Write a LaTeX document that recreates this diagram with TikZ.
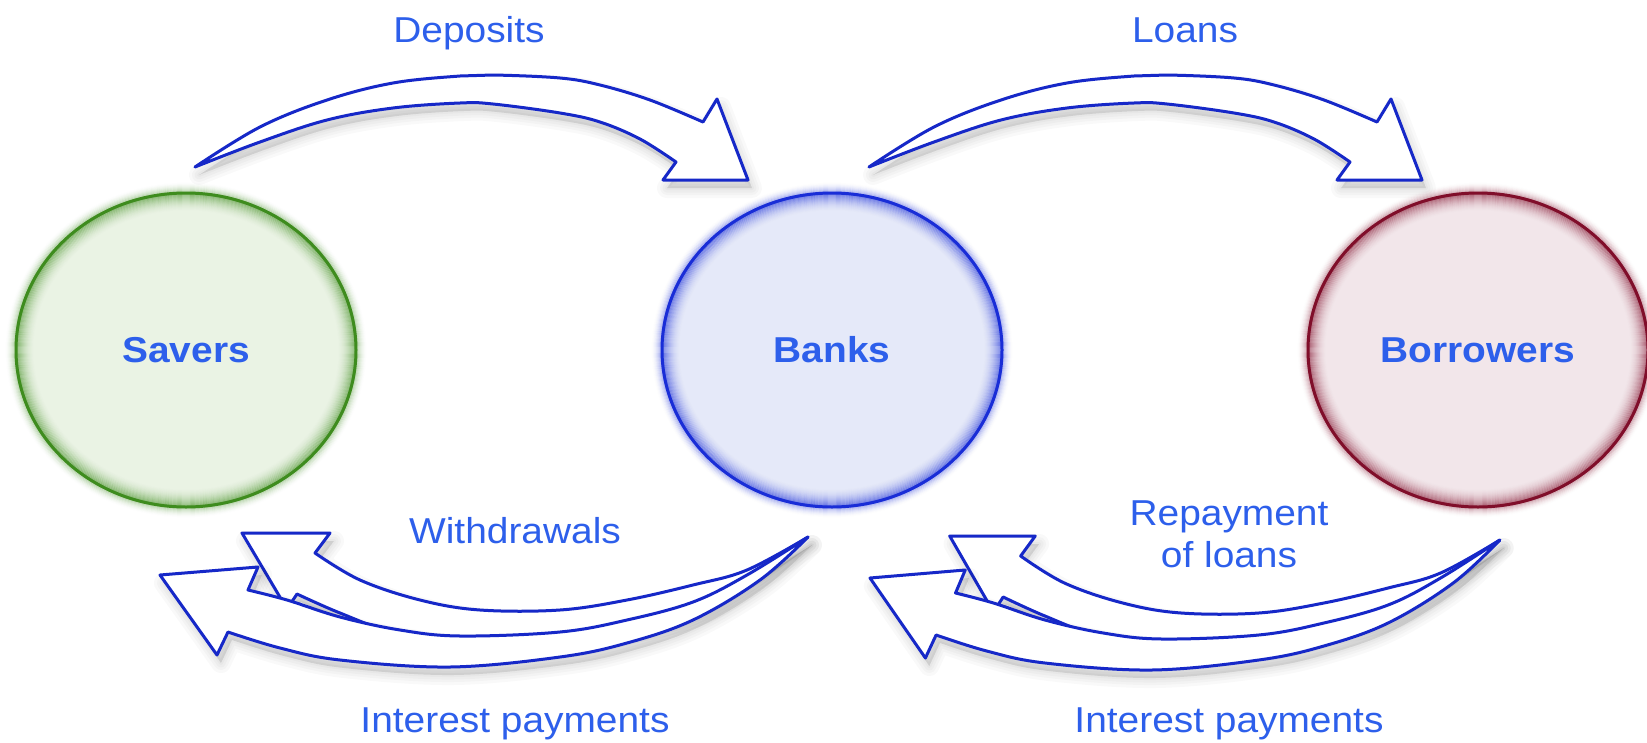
\documentclass[tikz,border=0pt]{standalone}
\usepackage{fontspec}
\setmainfont{Liberation Sans}
\usetikzlibrary{shapes.geometric}

\definecolor{txtblue}{RGB}{45,95,235}
\definecolor{arrowblue}{RGB}{22,40,200}
\definecolor{saverline}{RGB}{62,140,30}
\definecolor{saverfill}{RGB}{234,243,228}
\definecolor{bankline}{RGB}{25,45,215}
\definecolor{bankfill}{RGB}{229,233,249}
\definecolor{borrline}{RGB}{128,14,42}
\definecolor{borrfill}{RGB}{242,230,234}

\tikzset{
  lbl/.style={text=txtblue, font=\fontsize{36}{42}\selectfont, inner sep=0pt},
  agent/.style={ellipse, minimum width=340pt, minimum height=314pt, inner sep=0pt,
    line width=3pt, text=txtblue, font=\fontsize{36}{42}\selectfont\bfseries},
  blockarrow/.style={draw=arrowblue, fill=white, line width=3pt, line join=round},
}

% curved block arrow pointing right (top row)
\def\toparrow{plot[smooth,tension=0.6] coordinates {(195,167) (260,127) (327,100) (393,83) (460,76) (493,75) (560,78) (600,85) (650,100) (703,122)}
  -- (717,99) -- (748,180) -- (663,180) -- (676,162)
  -- plot[smooth,tension=0.6] coordinates {(676,162) (640,139) (600,122) (560,113) (493,104) (460,103) (393,108) (327,120) (260,142) (195,167)} -- cycle}

% rear returning arrow (bottom row)
\def\backarrow{(242,533) -- (330,533) -- (315,553)
  -- plot[smooth,tension=0.6] coordinates {(315,553) (360,580) (420,600) (480,610) (560,610) (627,600) (693,585) (747,570) (808,537)}
  -- plot[smooth,tension=0.6] coordinates {(808,537) (747,579) (693,609) (627,626) (560,640) (460,642) (400,635) (340,613) (297,594)}
  -- (287,609) -- cycle}

% front returning arrow (bottom row)
\def\frontarrow{(160,575) -- (258,567) -- (248,590)
  -- plot[smooth,tension=0.6] coordinates {(248,590) (287,600) (340,617) (400,630) (460,636) (560,632) (627,620) (693,602) (747,575) (808,537)}
  -- plot[smooth,tension=0.6] coordinates {(808,537) (760,580) (693,620) (627,643) (560,657) (450,667) (340,660) (280,648) (228,632)}
  -- (217,655) -- cycle}

% soft drop shadow under a block arrow
\newcommand\softshadow[1]{%
  \begin{scope}[shift={(4,8)}]
    \foreach \w in {20,14,9,4}{\fill[black, opacity=0.022, draw=black, line width=\w pt, line join=round] #1;}
  \end{scope}}

% a glowing ellipse with its bold label
\newcommand\agentnode[6]{%
  \fill[#5] (#2,#3) ellipse [x radius=170, y radius=157];
  \foreach \k in {1,...,18}{%
    \pgfmathsetmacro\op{0.5*(1-\k/19)^2}
    \draw[#4, line width=1.4pt, opacity=\op] (#2,#3) ellipse [x radius=170-\k, y radius=157-\k];}
  \foreach \k in {1,...,10}{%
    \pgfmathsetmacro\op{0.35*(1-\k/11)^2}
    \draw[#4, line width=1.4pt, opacity=\op] (#2,#3) ellipse [x radius=170+\k, y radius=157+\k];}
  \node[agent, draw=#4] (#1) at (#2,#3) {\scalebox{1.08}[1]{#6}};
}

\begin{document}
\begin{tikzpicture}[x=1pt, y=-1pt]
  \fill[white] (0,0) rectangle (1647,742);
  \useasboundingbox (0,0) rectangle (1647,742);

  % the three parties
  \agentnode{savers}{186}{350}{saverline}{saverfill}{Savers}
  \agentnode{banks}{832}{350}{bankline}{bankfill}{Banks}
  \agentnode{borrowers}{1478}{350}{borrline}{borrfill}{Borrowers}

  % deposits and loans
  \softshadow{\toparrow}
  \draw[blockarrow] \toparrow;
  \begin{scope}[shift={(674,0)}]
    \softshadow{\toparrow}
    \draw[blockarrow] \toparrow;
  \end{scope}

  % withdrawals and interest back to savers
  \softshadow{\backarrow}
  \draw[blockarrow] \backarrow;
  \softshadow{\frontarrow}
  \draw[blockarrow] \frontarrow;

  % repayments and interest back to banks (slightly shorter pair)
  \begin{scope}[shift={(710,3)}]
  \begin{scope}[shift={(160,0)}, xscale=0.972, shift={(-160,0)}]
    \softshadow{\backarrow}
    \draw[blockarrow] \backarrow;
    \softshadow{\frontarrow}
    \draw[blockarrow] \frontarrow;
  \end{scope}
  \end{scope}

  % flow labels
  \node[lbl, anchor=base] (deposits) at (469,42) {\scalebox{1.08}[1]{Deposits}};
  \node[lbl, anchor=base] (loans) at (1185,42) {\scalebox{1.08}[1]{Loans}};
  \node[lbl, anchor=base] (withdrawals) at (515,543) {\scalebox{1.08}[1]{Withdrawals}};
  \node[lbl, anchor=base] (repay1) at (1229,525) {\scalebox{1.08}[1]{Repayment}};
  \node[lbl, anchor=base] (repay2) at (1229,567) {\scalebox{1.08}[1]{of loans}};
  \node[lbl, anchor=base] (interest1) at (515,732) {\scalebox{1.08}[1]{Interest payments}};
  \node[lbl, anchor=base] (interest2) at (1229,732) {\scalebox{1.08}[1]{Interest payments}};
\end{tikzpicture}
\end{document}
